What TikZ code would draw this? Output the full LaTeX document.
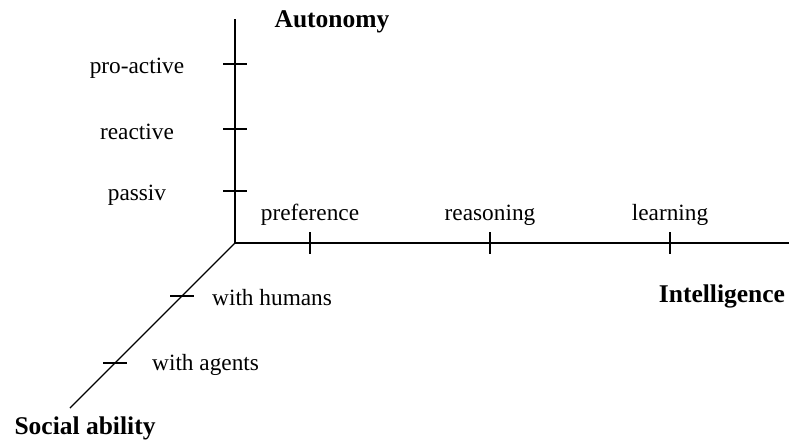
\documentclass[tikz,border=0pt]{standalone}
\usepackage{fontspec}
\setmainfont{Liberation Serif}
\begin{document}
\begin{tikzpicture}[x=1pt,y=-1pt,
  axis/.style={line width=1.4pt},
  tickmark/.style={line width=1.4pt},
  lbl/.style={inner sep=0pt,anchor=base,font=\fontsize{23.3}{28}\selectfont},
  title/.style={inner sep=0pt,anchor=base,font=\fontsize{25.5}{30}\selectfont\bfseries}]
  \useasboundingbox (0,0) rectangle (789,442);
  % origin and axis ends
  \coordinate (O) at (235,243);
  \coordinate (Atop) at (235,19);
  \coordinate (Iend) at (789,243);
  \coordinate (Send) at (70,408);
  \draw[axis] (O) -- (Atop);
  \draw[axis] (O) -- (Iend);
  \draw[axis] (O) -- (Send);
  % autonomy ticks
  \coordinate (a1) at (235,191);
  \coordinate (a2) at (235,129);
  \coordinate (a3) at (235,64);
  \foreach \t in {a1,a2,a3}
    \draw[tickmark] (\t) +(-12,0) -- +(12,0);
  % intelligence ticks
  \coordinate (i1) at (310,243);
  \coordinate (i2) at (490,243);
  \coordinate (i3) at (670,243);
  \foreach \t in {i1,i2,i3}
    \draw[tickmark] (\t) +(0,-11) -- +(0,11);
  % social ability ticks
  \coordinate (s1) at (182,296);
  \coordinate (s2) at (115,363);
  \foreach \t in {s1,s2}
    \draw[tickmark] (\t) +(-12,0) -- +(12,0);
  % labels
  \node[title] (tA) at (332,27) {Autonomy};
  \node[title] (tI) at (722,302) {Intelligence};
  \node[title] (tS) at (85,434) {Social ability};
  \node[lbl] (la3) at (137,73) {pro-active};
  \node[lbl] (la2) at (137,139) {reactive};
  \node[lbl] (la1) at (137,200) {passiv};
  \node[lbl] (li1) at (310,220) {preference};
  \node[lbl] (li2) at (490,220) {reasoning};
  \node[lbl] (li3) at (670,220) {learning};
  \node[lbl,anchor=base west] (ls1) at (212,305) {with humans};
  \node[lbl,anchor=base west] (ls2) at (152,370) {with agents};
\end{tikzpicture}
\end{document}
